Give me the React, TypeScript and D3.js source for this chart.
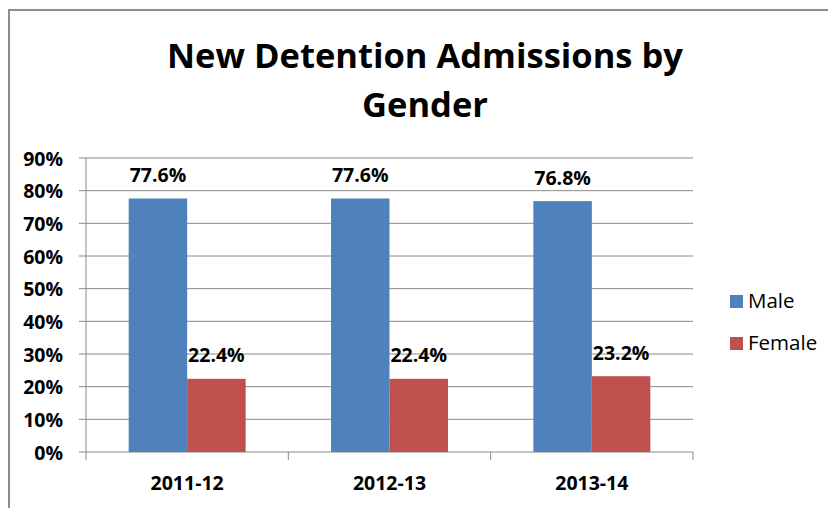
import * as d3 from "d3";
import React, { useRef, useEffect } from "react";

const categories = ["2011-12", "2012-13", "2013-14"];
const seriesNames = ["Male", "Female"];
const maleValues = [77.6, 77.6, 76.8];
const femaleValues = [22.4, 22.4, 23.2];
const yTicks = [0, 10, 20, 30, 40, 50, 60, 70, 80, 90];
const colors = ["#4F81BD", "#C0504D"];

const W = 828;
const H = 508;
const FONT = "'Open Sans', sans-serif";

export default function App() {
  const ref = useRef<SVGSVGElement>(null);

  useEffect(() => {
    const svg = d3.select(ref.current);
    svg.selectAll("*").remove();

    const left = 86, right = 693, top = 158, bottom = 452;

    // outer chart frame (top and left edges visible)
    svg.append("path")
      .attr("d", `M9,${H + 5} V10 H${W + 5}`)
      .attr("fill", "none")
      .attr("stroke", "#8c8c8c")
      .attr("stroke-width", 2);

    // title
    const title = svg.append("text")
      .attr("text-anchor", "middle")
      .attr("font-family", FONT)
      .attr("font-weight", "bold")
      .attr("font-size", 34.5)
      .attr("fill", "#000");
    title.append("tspan").attr("x", 425).attr("y", 68).text("New Detention Admissions by");
    title.append("tspan").attr("x", 425).attr("y", 117).text("Gender");

    const x = d3.scaleBand().domain(categories).range([left, right]);
    const x1 = d3.scaleBand().domain(seriesNames).range([0, x.bandwidth()]).paddingOuter(0.73);
    const y = d3.scaleLinear().domain([0, 90]).range([bottom, top]);

    // gridlines
    svg.append("g")
      .selectAll("line")
      .data(yTicks)
      .join("line")
      .attr("x1", left - 7)
      .attr("x2", right)
      .attr("y1", d => y(d))
      .attr("y2", d => y(d))
      .attr("stroke", "#8a8a8a")
      .attr("stroke-width", 1);

    // y axis line
    svg.append("line")
      .attr("x1", left).attr("x2", left)
      .attr("y1", top).attr("y2", bottom)
      .attr("stroke", "#8a8a8a");

    // y tick labels
    svg.append("g")
      .selectAll("text")
      .data(yTicks)
      .join("text")
      .attr("x", 63)
      .attr("y", d => y(d) + 7.5)
      .attr("text-anchor", "end")
      .attr("font-family", FONT)
      .attr("font-weight", "bold")
      .attr("font-size", 19.5)
      .text(d => d + "%");

    // x ticks at category boundaries
    const bounds = [left, ...categories.map(c => (x(c) as number) + x.bandwidth())];
    svg.append("g")
      .selectAll("line")
      .data(bounds)
      .join("line")
      .attr("x1", d => d).attr("x2", d => d)
      .attr("y1", bottom).attr("y2", bottom + 8)
      .attr("stroke", "#8a8a8a");

    // x labels
    svg.append("g")
      .selectAll("text")
      .data(categories)
      .join("text")
      .attr("x", d => (x(d) as number) + x.bandwidth() / 2)
      .attr("y", 490)
      .attr("text-anchor", "middle")
      .attr("font-family", FONT)
      .attr("font-weight", "bold")
      .attr("font-size", 19.5)
      .text(d => d);

    const rows = categories.map((c, i) => ({
      cat: c,
      vals: [maleValues[i], femaleValues[i]],
    }));

    const groups = svg.append("g")
      .selectAll("g")
      .data(rows)
      .join("g")
      .attr("transform", d => `translate(${x(d.cat)},0)`);

    groups.selectAll("rect")
      .data(d => d.vals.map((v, j) => ({ v, s: seriesNames[j], j })))
      .join("rect")
      .attr("x", d => x1(d.s) as number)
      .attr("y", d => y(d.v))
      .attr("width", x1.bandwidth())
      .attr("height", d => bottom - y(d.v))
      .attr("fill", d => colors[d.j]);

    groups.selectAll("text")
      .data(d => d.vals.map((v, j) => ({ v, s: seriesNames[j] })))
      .join("text")
      .attr("x", d => (x1(d.s) as number) + x1.bandwidth() / 2)
      .attr("y", d => y(d.v) - 16.5)
      .attr("text-anchor", "middle")
      .attr("font-family", FONT)
      .attr("font-weight", "bold")
      .attr("font-size", 19.5)
      .text(d => d.v.toFixed(1) + "%");

    // legend
    const legend = svg.append("g")
      .selectAll("g")
      .data(seriesNames)
      .join("g")
      .attr("transform", (d, i) => `translate(730,${295 + i * 42})`);
    legend.append("rect")
      .attr("width", 13).attr("height", 13)
      .attr("fill", (d, i) => colors[i]);
    legend.append("text")
      .attr("x", 18)
      .attr("y", 13)
      .attr("font-family", FONT)
      .attr("font-size", 20.5)
      .text(d => d);
  }, []);

  return (
    <svg
      ref={ref}
      width={W}
      height={H}
      style={{ position: "absolute", left: 0, top: 0, background: "#fff" }}
    />
  );
}
